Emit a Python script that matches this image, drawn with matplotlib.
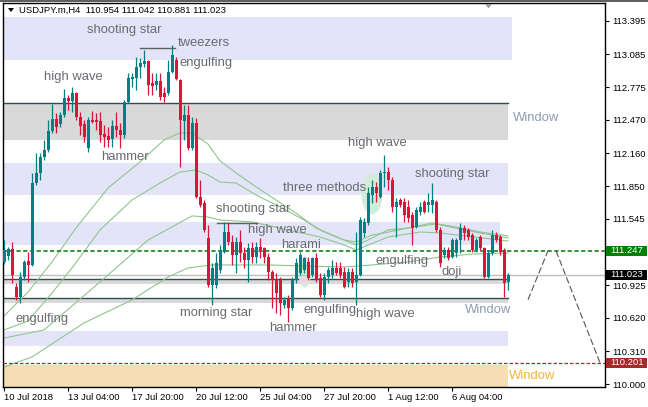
import matplotlib
matplotlib.use("Agg")
import matplotlib.pyplot as plt
from matplotlib.patches import Rectangle, Ellipse, Polygon
import matplotlib.transforms as mtransforms
import numpy as np

plt.rcParams['font.family'] = ['Liberation Sans', 'DejaVu Sans']

# ---------------- data (USDJPY.m, H4) ----------------
opens = [111.141, 111.196, 111.262, 110.907, 110.813, 111.000, 111.150, 111.113, 111.880, 111.973,
         112.123, 112.188, 112.366, 112.478, 112.431, 112.516, 112.675, 112.647, 112.721, 112.497,
         112.431, 112.207, 112.469, 112.469, 112.460, 112.338, 112.319, 112.291, 112.413, 112.375,
         112.329, 112.637, 112.852, 112.862, 112.965, 112.993, 113.021, 112.815, 112.797, 112.834,
         112.721, 112.721, 112.918, 113.030, 112.843, 112.460, 112.516, 112.207, 112.441, 111.749,
         111.692, 111.365, 110.925, 110.925, 111.066, 111.234, 111.421, 111.328, 111.206, 111.328,
         111.225, 111.159, 111.272, 111.188, 111.281, 111.272, 111.188, 111.047, 110.972, 110.972,
         110.738, 110.804, 110.710, 110.972, 111.038, 111.066, 111.141, 111.019, 111.178, 110.991,
         110.832, 111.000, 111.019, 111.084, 111.084, 111.047, 110.953, 111.047, 110.953, 111.019,
         111.412, 111.505, 111.768, 111.842, 111.749, 111.973, 111.983, 111.908, 111.655, 111.720,
         111.702, 111.655, 111.580, 111.468, 111.608, 111.702, 111.674, 111.674, 111.702, 111.440,
         111.206, 111.253, 111.188, 111.225, 111.346, 111.459, 111.440, 111.393, 111.253, 111.374,
         111.272, 111.000, 111.225, 111.393, 111.374, 111.253, 110.954]
highs = [111.346, 111.280, 111.327, 110.944, 111.047, 111.159, 111.234, 111.973, 112.160, 112.160,
         112.282, 112.469, 112.619, 112.534, 112.544, 112.759, 112.703, 112.778, 112.731, 112.544,
         112.469, 112.497, 112.553, 112.534, 112.544, 112.422, 112.403, 112.469, 112.544, 112.441,
         112.656, 112.909, 112.909, 113.058, 113.049, 113.124, 113.030, 112.909, 112.909, 112.909,
         112.778, 113.030, 113.170, 113.058, 112.852, 112.609, 112.609, 112.497, 112.488, 111.908,
         111.720, 111.487, 111.131, 111.225, 111.300, 111.515, 111.515, 111.393, 111.374, 111.440,
         111.281, 111.318, 111.328, 111.328, 111.365, 111.281, 111.225, 111.066, 111.038, 111.000,
         110.813, 110.832, 111.000, 111.178, 111.234, 111.188, 111.188, 111.188, 111.225, 111.038,
         111.038, 111.094, 111.159, 111.141, 111.141, 111.094, 111.084, 111.084, 111.421, 111.562,
         111.553, 111.842, 111.908, 111.889, 112.001, 112.142, 112.029, 111.936, 111.739, 111.739,
         111.739, 111.720, 111.608, 111.655, 111.702, 111.720, 111.786, 111.880, 111.720, 111.468,
         111.281, 111.281, 111.365, 111.365, 111.505, 111.487, 111.459, 111.412, 111.365, 111.393,
         111.281, 111.253, 111.440, 111.421, 111.393, 111.272, 111.042]
lows = [111.122, 111.159, 110.944, 110.785, 110.757, 110.972, 110.953, 111.104, 111.861, 111.907,
        112.095, 112.170, 112.347, 112.347, 112.403, 112.497, 112.563, 112.544, 112.469, 112.329,
        112.263, 112.170, 112.441, 112.375, 112.263, 112.216, 112.216, 112.216, 112.310, 112.207,
        112.301, 112.628, 112.778, 112.750, 112.862, 112.965, 112.703, 112.703, 112.750, 112.656,
        112.637, 112.703, 112.909, 112.843, 112.029, 112.282, 112.188, 112.188, 111.739, 111.655,
        111.421, 110.907, 110.738, 110.897, 111.038, 111.225, 111.300, 111.113, 111.038, 111.141,
        111.084, 110.953, 111.131, 111.131, 111.178, 111.131, 110.972, 110.710, 110.663, 110.644,
        110.710, 110.579, 110.691, 110.944, 111.019, 111.038, 110.972, 111.000, 110.953, 110.813,
        110.785, 110.944, 110.991, 111.019, 110.991, 110.897, 110.907, 110.907, 110.738, 111.010,
        111.374, 111.487, 111.692, 111.702, 111.739, 111.842, 111.814, 111.608, 111.374, 111.655,
        111.515, 111.515, 111.300, 111.459, 111.580, 111.599, 111.608, 111.599, 111.421, 111.094,
        111.178, 111.159, 111.178, 111.188, 111.225, 111.346, 111.346, 111.234, 111.234, 111.253,
        110.991, 110.991, 111.206, 111.328, 111.206, 110.813, 110.881]
closes = [111.252, 111.262, 111.019, 110.813, 111.000, 111.141, 111.113, 111.880, 111.973, 112.123,
          112.188, 112.366, 112.478, 112.403, 112.516, 112.675, 112.647, 112.721, 112.497, 112.413,
          112.310, 112.469, 112.450, 112.450, 112.329, 112.310, 112.282, 112.413, 112.375, 112.329,
          112.637, 112.862, 112.871, 112.965, 113.002, 113.021, 112.797, 112.787, 112.834, 112.684,
          112.684, 112.918, 113.077, 112.852, 112.469, 112.516, 112.207, 112.441, 111.749, 111.674,
          111.440, 110.925, 111.084, 111.131, 111.253, 111.421, 111.328, 111.206, 111.328, 111.225,
          111.159, 111.272, 111.188, 111.281, 111.253, 111.188, 111.047, 110.972, 110.851, 110.757,
          110.785, 110.710, 110.972, 111.131, 111.206, 111.178, 110.991, 111.178, 110.972, 110.832,
          111.000, 111.066, 111.084, 111.038, 111.019, 110.907, 111.047, 110.944, 111.019, 111.534,
          111.515, 111.786, 111.842, 111.786, 111.973, 111.983, 111.908, 111.655, 111.702, 111.674,
          111.580, 111.552, 111.459, 111.627, 111.655, 111.608, 111.702, 111.720, 111.440, 111.131,
          111.253, 111.178, 111.346, 111.346, 111.459, 111.412, 111.374, 111.253, 111.346, 111.272,
          111.000, 111.225, 111.393, 111.346, 111.234, 110.944, 111.023]

time_labels = ["10 Jul 2018", "13 Jul 04:00", "17 Jul 20:00", "20 Jul 12:00",
               "25 Jul 04:00", "27 Jul 20:00", "1 Aug 12:00", "6 Aug 04:00"]
time_label_bars = [0, 16, 32, 48, 64, 80, 96, 112]

price_ticks = [113.395, 113.085, 112.775, 112.470, 112.160, 111.850, 111.545,
               110.925, 110.620, 110.310, 110.000]

# moving averages
ma_a_bars = [0, 6, 12, 18, 26, 34, 40, 44, 47, 51, 54, 58, 63, 68, 73, 78, 85, 88, 91, 96, 101, 107, 113, 119, 126]
ma_a_vals = [110.638, 110.862, 111.143, 111.460, 111.834, 112.077, 112.283, 112.348, 112.348, 112.245,
             112.087, 111.975, 111.845, 111.722, 111.601, 111.460, 111.348, 111.302, 111.348, 111.442,
             111.460, 111.507, 111.470, 111.423, 111.386]
ma_b_bars = [0, 6, 12, 17, 24, 32, 39, 44, 48, 51, 54, 58, 63, 69, 75, 80, 85, 88, 92, 95, 101, 108, 115, 126]
ma_b_vals = [110.507, 110.591, 110.853, 111.087, 111.442, 111.722, 111.881, 111.984, 112.002, 111.956,
             111.890, 111.881, 111.769, 111.657, 111.535, 111.423, 111.348, 111.330, 111.395, 111.414,
             111.460, 111.498, 111.442, 111.367]
ma_c_bars = [0, 10, 24, 28, 36, 42, 47, 51, 54, 62, 71, 79, 85, 88, 96, 104, 109, 126]
ma_c_vals = [110.432, 110.507, 110.956, 111.087, 111.348, 111.470, 111.573, 111.563, 111.535, 111.517,
             111.442, 111.376, 111.302, 111.255, 111.376, 111.423, 111.414, 111.339]
ma_d_bars = [0, 7, 20, 32, 41, 46, 52, 66, 75, 85, 92, 101, 109, 117, 126]
ma_d_vals = [110.161, 110.255, 110.573, 110.788, 111.002, 111.087, 111.115, 111.115, 111.105, 111.096,
             111.115, 111.143, 111.189, 111.217, 111.227]

# zones: (start bar, end bar, low price, high price)
lavender_zones = [(-0.3, 126.9, 113.030, 113.430), (-0.3, 126.0, 111.769, 112.071),
                  (-0.3, 124.0, 111.302, 111.519), (-0.3, 126.0, 110.361, 110.498)]
window_zones = [(-0.3, 125.9, 112.283, 112.631), (-0.3, 125.9, 110.937, 110.981),
                (-0.3, 125.9, 110.759, 110.803)]
wheat_zone = (-0.3, 126.0, 109.90, 110.180)

bid_price = 111.023
green_level = 111.247
red_level = 110.201
tweezers_level = (34, 42.75, 113.147)
shoot_level = (53.25, 63.25, 111.510)
projection_1 = ([131, 136], [110.790, 111.247])
projection_2 = ([138, 149], [111.247, 110.201])

annotations = [
    ("shooting star", 20.75, 113.311), ("tweezers", 43.5, 113.189), ("engulfing", 44.0, 113.002),
    ("high wave", 10.0, 112.872), ("hammer", 24.25, 112.124), ("high wave", 86.0, 112.258),
    ("three methods", 69.75, 111.834), ("shooting star", 53.0, 111.638), ("high wave", 61.0, 111.442),
    ("harami", 69.25, 111.302), ("shooting star", 102.75, 111.965), ("engulfing", 93.0, 111.152),
    ("doji", 109.5, 111.049), ("engulfing", 2.75, 110.610), ("morning star", 44.0, 110.666),
    ("hammer", 66.25, 110.526), ("engulfing", 74.75, 110.694), ("high wave", 88.0, 110.657),
]
window_labels = [("Window", 127.25, 112.488, '#8c9cb4'), ("Window", 115.25, 110.694, '#8c9cb4'),
                 ("Window", 126.25, 110.077, '#f0b43c')]

# ---------------- figure ----------------
W, H = 648, 407
fig = plt.figure(figsize=(W / 100, H / 100), dpi=100)
Lp, Rp, Tp, Bp = 3, 605, 3, 386.5
ax = fig.add_axes([Lp / W, 1 - Bp / H, (Rp - Lp) / W, (Bp - Tp) / H])
ax.set_xlim(-0.25, 150.25)
ax.set_ylim(109.979, 113.563)

for x0, x1, lo, hi in lavender_zones:
    ax.add_patch(Rectangle((x0, lo), x1 - x0, hi - lo, facecolor='#e4e4f8', edgecolor='none', zorder=0))
for x0, x1, lo, hi in window_zones:
    ax.add_patch(Rectangle((x0, lo), x1 - x0, hi - lo, facecolor='#d9d9d9', edgecolor='none', zorder=0))
    ax.plot([x0, x1], [hi, hi], color='#2f4f4f', lw=1.0, zorder=1)
x0, x1, lo, hi = wheat_zone
ax.add_patch(Rectangle((x0, lo), x1 - x0, hi - lo, facecolor='#f5deb3', edgecolor='none', zorder=0))

# pattern highlights
ax.add_patch(Ellipse((92, 111.778), 5.3, 0.38, facecolor='#d3ecd9', edgecolor='none', zorder=1))
ax.add_patch(Ellipse((75.2, 111.05), 3.2, 0.29, facecolor='#d3ecd9', edgecolor='none', zorder=1))
ax.add_patch(Rectangle((74.0, 110.946), 1.75, 0.045, facecolor='#f8cde8', edgecolor='none', zorder=1))

# moving averages
for bx, vals in [(ma_a_bars, ma_a_vals), (ma_b_bars, ma_b_vals), (ma_c_bars, ma_c_vals), (ma_d_bars, ma_d_vals)]:
    ax.plot(bx, vals, color='#8fc58f', lw=0.8, zorder=2)

# level lines
ax.axhline(bid_price, color='#c0c0c0', lw=1.0, zorder=1)
ax.axhline(green_level, color='#007a00', lw=1.1, ls=(0, (2.8, 1.6)), zorder=3)
ax.axhline(red_level, color='#a52a2a', lw=0.9, ls=(0, (2.8, 1.6)), zorder=3)
ax.plot(tweezers_level[:2], [tweezers_level[2]] * 2, color='#606060', lw=1.0, zorder=3)
ax.plot(shoot_level[:2], [shoot_level[2]] * 2, color='#606060', lw=1.0, zorder=3)
ax.plot(*projection_1, color='#555555', lw=0.8, ls=(0, (6, 2.5)), zorder=3)
ax.plot(*projection_2, color='#555555', lw=0.8, ls=(0, (6, 2.5)), zorder=3)

# candles
xs = np.arange(len(opens))
o = np.array(opens); c = np.array(closes)
cols = np.where(c >= o, '#008080', '#dc143c')
ax.vlines(xs, lows, highs, colors=cols, lw=0.9, zorder=4)
ax.bar(xs, np.maximum(np.abs(c - o), 0.008), bottom=np.minimum(o, c), width=0.75,
       color=cols, lw=0, zorder=5)

# annotations
for txt, bx, py in annotations:
    ax.text(bx, py, txt, fontsize=9.4, color='#6a6a72', ha='left', va='center', zorder=6)
for txt, bx, py, col in window_labels:
    ax.text(bx, py, txt, fontsize=9.4, color=col, ha='left', va='center', zorder=6, clip_on=False)

# axes styling
for s in ax.spines.values():
    s.set_color('black'); s.set_linewidth(1.0)
ax.yaxis.tick_right()
ax.set_yticks(price_ticks)
ax.set_yticklabels([f"{v:.3f}" for v in price_ticks], fontsize=6.8)
ax.tick_params(axis='y', direction='out', length=3, width=0.8, pad=2.5, colors='black')
ax.set_xticks(time_label_bars)
ax.set_xticklabels(time_labels, fontsize=6.8, ha='left')
ax.tick_params(axis='x', direction='out', length=3, width=0.8, pad=2, colors='black')

# price boxes
trans = mtransforms.blended_transform_factory(ax.transAxes, ax.transData)
for price, fc in [(green_level, '#008000'), (bid_price, '#000000'), (red_level, '#a52a2a')]:
    ax.add_patch(Rectangle((1.002, price - 0.048), 0.068, 0.096, transform=trans,
                           facecolor=fc, edgecolor='none', clip_on=False, zorder=7))
    ax.text(1.0085, price, f"{price:.3f}", transform=trans, fontsize=6.8, color='white',
            ha='left', va='center', clip_on=False, zorder=8)

# title
fig.text(19 / W, 1 - 10.5 / H, "USDJPY.m,H4  110.954 111.042 110.881 111.023",
         fontsize=6.8, color='black', ha='left', va='center')
fig.patches.append(Polygon([[8 / W, 1 - 8 / H], [14 / W, 1 - 8 / H], [11 / W, 1 - 12 / H]],
                           closed=True, facecolor='black', edgecolor='none', transform=fig.transFigure))
fig.patches.append(Polygon([[485 / W, 1 - 4 / H], [492 / W, 1 - 4 / H], [488.5 / W, 1 - 8.5 / H]],
                           closed=True, facecolor='#a0a0a0', edgecolor='none', transform=fig.transFigure))
fig.lines.append(plt.Line2D([0, 1], [1 - 0.8 / H, 1 - 0.8 / H], color='#404040', lw=1.2,
                            transform=fig.transFigure))

fig.savefig("out.png", dpi=100)
